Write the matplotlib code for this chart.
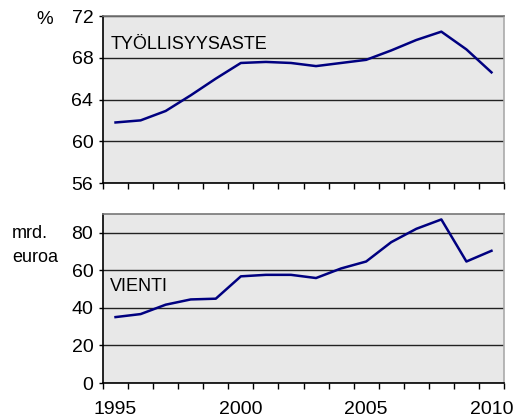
import numpy as np
import matplotlib.pyplot as plt
from matplotlib.ticker import MultipleLocator, FixedLocator, NullFormatter

# data
years = list(range(1995, 2011))
employment = [61.8, 62.0, 62.9, 64.4, 66.0, 67.5, 67.6, 67.5, 67.2, 67.5,
              67.8, 68.7, 69.7, 70.5, 68.8, 66.6]
exports = [35.1, 36.7, 41.7, 44.5, 44.9, 56.8, 57.6, 57.6, 55.9, 61.0,
           64.7, 75.0, 82.1, 87.1, 64.7, 70.4]
year_labels = [1995, 2000, 2005, 2010]

plt.rcParams['font.family'] = ['Liberation Sans', 'DejaVu Sans']

W, H = 514, 419
fig = plt.figure(figsize=(W / 100, H / 100), dpi=100)
left, right = 103 / W, 504 / W
ax1 = fig.add_axes([left, 1 - 183 / H, right - left, (183 - 16) / H])
ax2 = fig.add_axes([left, 1 - 383 / H, right - left, (383 - 214) / H])


def style(ax):
    ax.set_facecolor('#e8e8e8')
    ax.set_xlim(1994.5, 2010.5)
    ax.xaxis.set_major_locator(FixedLocator(year_labels))
    ax.xaxis.set_minor_locator(FixedLocator(np.arange(1994.5, 2011, 1)))
    ax.tick_params(axis='x', which='major', length=0, labelsize=14, pad=13)
    ax.tick_params(axis='x', which='minor', length=4, width=1, direction='out')
    ax.tick_params(axis='y', length=3, width=1, labelsize=14, pad=4)
    ax.grid(axis='y', color='#222222', linewidth=1)
    ax.set_axisbelow(True)
    ax.spines['left'].set_color('black')
    ax.spines['bottom'].set_color('black')
    ax.spines['top'].set_color('#777777')
    ax.spines['right'].set_color('#aaaaaa')
    for s in ax.spines.values():
        s.set_linewidth(1.2)


style(ax1)
ax1.plot(years, employment, color='#000080', linewidth=1.8, zorder=3)
ax1.set_ylim(56, 72)
ax1.yaxis.set_major_locator(MultipleLocator(4))
ax1.xaxis.set_major_formatter(NullFormatter())
ax1.text(0.018, 0.83, 'TYÖLLISYYSASTE', transform=ax1.transAxes,
         fontsize=13, va='center', ha='left')
fig.text(45 / W, 1 - 20 / H, '%', fontsize=13.5, ha='center', va='center')

style(ax2)
ax2.plot(years, exports, color='#000080', linewidth=1.8, zorder=3)
ax2.set_ylim(0, 90)
ax2.yaxis.set_major_locator(MultipleLocator(20))
ax2.set_xticklabels([str(y) for y in year_labels])
ax2.text(0.018, 0.57, 'VIENTI', transform=ax2.transAxes,
         fontsize=13, va='center', ha='left')
fig.text(12 / W, 1 - 233 / H, 'mrd.', fontsize=13, ha='left', va='center')
fig.text(12 / W, 1 - 257 / H, 'euroa', fontsize=13, ha='left', va='center')

fig.savefig('out.png', dpi=100)
